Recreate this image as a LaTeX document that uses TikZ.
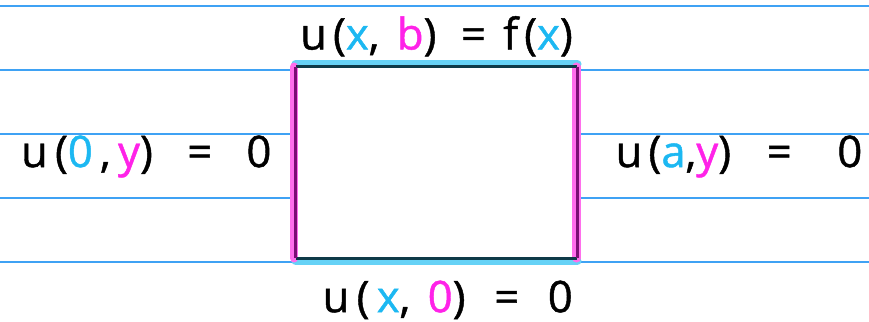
\documentclass[tikz,border=0pt]{standalone}
\usepackage{fontspec}
\setmainfont{Open Sans}
\newfontfamily\hand[LetterSpace=14,FakeBold=1]{Open Sans}
\usepackage{tikz}
\usetikzlibrary{positioning,calc}

\definecolor{ruleblue}{HTML}{3FA2F4}
\definecolor{varcyan}{HTML}{1CB8F2}
\definecolor{varpink}{HTML}{FF22E8}
\definecolor{glowcyan}{HTML}{66D2F6}
\definecolor{glowpink}{HTML}{FF6EEC}
\definecolor{edgeteal}{HTML}{0E3A48}
\definecolor{edgeplum}{HTML}{7A0E74}

\newcommand{\vc}[1]{\textcolor{varcyan}{#1}}
\newcommand{\vp}[1]{\textcolor{varpink}{#1}}

\begin{document}
\begin{tikzpicture}[
    x=0.025cm, y=-0.025cm,
    rule/.style={draw=ruleblue, line width=0.9pt},
    region/.style={rectangle, fill=white, inner sep=0pt,
        minimum width=7.025cm, minimum height=4.775cm},
    cond/.style={font=\hand\fontsize{31}{34}\selectfont, inner sep=0pt},
    glow/.style={line width=6pt, line cap=round},
    edge/.style={line width=2pt}
]
    \useasboundingbox (0,0) rectangle (869,322);

    % ruled paper
    \foreach \y in {6,70,134,198,262}
        \draw[rule] (0,\y) -- (869,\y);

    % the rectangle
    \node[region] (region) at (436.5,162.5) {};

    % highlighted sides
    \draw[glow, glowcyan] ([yshift=2pt]region.north west) -- ([yshift=2pt]region.north east);
    \draw[glow, glowcyan] ([yshift=-2pt]region.south west) -- ([yshift=-2pt]region.south east);
    \draw[glow, glowpink] ([xshift=-1pt]region.north west) -- ([xshift=-1pt]region.south west);
    \draw[glow, glowpink] ([xshift=-0.5pt]region.north east) -- ([xshift=-0.5pt]region.south east);
    \draw[edge, edgeteal] (region.north west) -- (region.north east);
    \draw[edge, edgeteal] (region.south west) -- (region.south east);
    \draw[edge, edgeplum] (region.north west) -- (region.south west);
    \draw[edge, edgeplum] (region.north east) -- (region.south east);

    % boundary conditions
    \node[cond, above=0.25cm of region] (top) {u(\vc{x}, \vp{b})\hspace{5pt} = f(\vc{x})};
    \node[cond, below=0.55cm of region, xshift=0.28cm] (bottom) {u\,(\,\vc{x}, \vp{0}) \hspace{8pt}=\hspace{8pt} 0};
    \node[cond, left=0.6cm of region, yshift=0.15cm] (left) {u\,(\vc{0}\,,\,\vp{y}) \hspace{12pt}=\hspace{12pt} 0};
    \node[cond, right=0.95cm of region, yshift=0.15cm] (right) {u(\vc{a},\vp{y}) \hspace{13pt}=\hspace{20pt} 0};
\end{tikzpicture}
\end{document}
